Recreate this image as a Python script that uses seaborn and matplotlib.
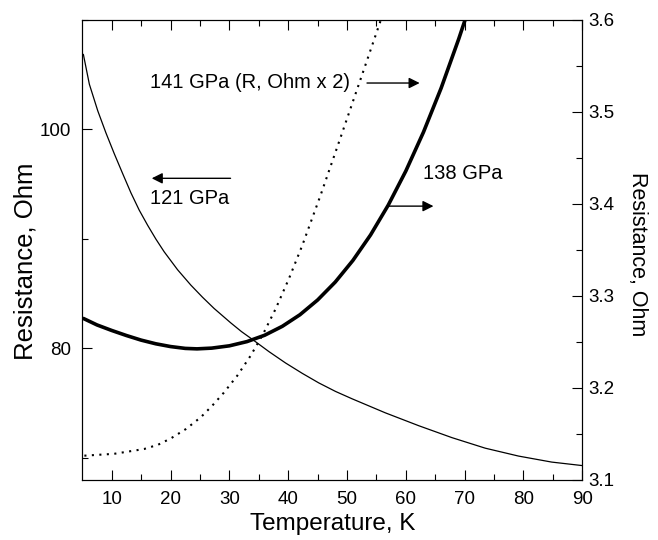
import numpy as np
import matplotlib
matplotlib.use("Agg")
import matplotlib.pyplot as plt
from matplotlib.ticker import FixedLocator
import pandas as pd
import seaborn as sns

# 121 GPa, left axis (Ohm)
t_121 = [5.18, 6.20, 7.63, 9.03, 10.44, 11.87, 13.27, 14.68, 16.11, 17.51, 18.92,
         21.20, 23.45, 25.44, 27.40, 30.24, 32.07, 33.92, 36.72, 39.55, 42.40,
         45.20, 48.05, 50.90, 56.50, 62.20, 67.85, 73.50, 79.15, 84.80, 90.00]
r_121 = [106.82, 104.09, 101.66, 99.63, 97.74, 95.92, 94.17, 92.59, 91.21, 89.95, 88.79,
         87.15, 85.75, 84.64, 83.62, 82.30, 81.50, 80.79, 79.68, 78.64, 77.69,
         76.82, 76.04, 75.36, 74.09, 72.91, 71.82, 70.86, 70.14, 69.59, 69.27]

# 138 GPa, right axis (Ohm)
t_138 = [5.2, 7.5, 10.0, 12.5, 15.0, 17.5, 20.0, 22.5, 24.5, 27.0, 30.0, 33.0, 36.0,
         39.0, 42.0, 45.0, 48.0, 51.0, 54.0, 57.0, 60.0, 63.0, 66.0, 69.0, 70.1]
r_138 = [3.2750, 3.2680, 3.2620, 3.2565, 3.2515, 3.2475, 3.2445, 3.2425, 3.2420, 3.2428,
         3.2453, 3.2499, 3.2568, 3.2665, 3.2791, 3.2951, 3.3146, 3.3381, 3.3658, 3.3981,
         3.4353, 3.4776, 3.5254, 3.5790, 3.6001]

# 141 GPa, right axis (R, Ohm x 2)
t_141 = [5.35, 10.39, 15.48, 17.85, 20.06, 22.60, 25.15, 27.10, 29.05, 31.34, 33.63,
         35.75, 37.87, 40.14, 42.40, 45.49, 48.90, 52.29, 55.78]
r_141 = [3.1259, 3.1279, 3.1331, 3.1377, 3.1447, 3.1548, 3.1677, 3.1803, 3.1943, 3.2128,
         3.2347, 3.2583, 3.2855, 3.3185, 3.3545, 3.4087, 3.4717, 3.5348, 3.6000]

x_ticks = [10, 20, 30, 40, 50, 60, 70, 80, 90]
left_ticks = [80, 100]
right_ticks = [3.1, 3.2, 3.3, 3.4, 3.5, 3.6]

df_121 = pd.DataFrame({"T": t_121, "R": r_121})
df_138 = pd.DataFrame({"T": t_138, "R": r_138})
df_141 = pd.DataFrame({"T": t_141, "R": r_141})

sns.set_style("ticks", {"axes.edgecolor": "black", "xtick.color": "black",
                        "ytick.color": "black", "text.color": "black",
                        "axes.labelcolor": "black"})
plt.rcParams['font.family'] = ['Liberation Sans', 'DejaVu Sans']

fig = plt.figure(figsize=(6.58, 5.40), dpi=100)
ax = fig.add_axes([82.3 / 658, 60.5 / 540, 500 / 658, 460 / 540])
ax2 = ax.twinx()

sns.lineplot(data=df_121, x="T", y="R", ax=ax, color="black", linewidth=0.9)
sns.lineplot(data=df_138, x="T", y="R", ax=ax2, color="black", linewidth=2.6)
sns.lineplot(data=df_141, x="T", y="R", ax=ax2, color="black", linewidth=1.5,
             linestyle=(0, (1, 2.6)))

ax.set_xlim(5, 90)
ax.set_ylim(68, 110)
ax2.set_ylim(3.1, 3.6)

ax.xaxis.set_major_locator(FixedLocator(x_ticks))
ax.xaxis.set_minor_locator(FixedLocator([15, 25, 35, 45, 55, 65, 75, 85]))
ax.yaxis.set_major_locator(FixedLocator(left_ticks))
ax.yaxis.set_minor_locator(FixedLocator([70, 90, 110]))
ax2.yaxis.set_major_locator(FixedLocator(right_ticks))
ax2.yaxis.set_minor_locator(FixedLocator([3.15, 3.25, 3.35, 3.45, 3.55]))
ax2.set_yticklabels([f"{v:.1f}" for v in right_ticks])

ax.tick_params(axis="x", which="both", direction="in", top=True, labelsize=13.5, pad=8)
ax.tick_params(axis="y", which="both", direction="in", right=False, labelsize=13.5, pad=8)
ax.tick_params(which="major", length=7, width=0.8)
ax.tick_params(which="minor", length=4, width=0.8)
ax2.tick_params(axis="y", which="both", direction="in", labelsize=13.5, pad=4)
ax2.tick_params(which="major", length=7, width=0.8)
ax2.tick_params(which="minor", length=4, width=0.8)

for a in (ax, ax2):
    for s in a.spines.values():
        s.set_linewidth(0.8)
        s.set_visible(True)

ax.set_xlabel("Temperature, K", fontsize=17.5)
ax.xaxis.set_label_coords(0.5, -0.072)
ax.set_ylabel("Resistance, Ohm", fontsize=18.5)
ax.yaxis.set_label_coords(-0.09, 0.475)
ax2.set_ylabel("Resistance, Ohm", fontsize=15.5, rotation=270, va="bottom")
ax2.yaxis.set_label_coords(1.09, 0.49)

arrow = dict(arrowstyle="-|>", color="black", lw=1.0, mutation_scale=16,
             shrinkA=0, shrinkB=0)
ax.text(16.55, 104.24, "141 GPa (R, Ohm x 2)", fontsize=14.5, ha="left", va="center")
ax.annotate("", xy=(62.35, 104.2), xytext=(53.4, 104.2), arrowprops=arrow)
ax.text(16.55, 93.66, "121 GPa", fontsize=14.5, ha="left", va="center")
ax.annotate("", xy=(16.8, 95.5), xytext=(30.2, 95.5), arrowprops=arrow)
ax.text(62.93, 95.9, "138 GPa", fontsize=14.5, ha="left", va="center")
ax.annotate("", xy=(64.7, 92.96), xytext=(56.8, 92.96), arrowprops=arrow)

fig.savefig("out.png", dpi=100)
